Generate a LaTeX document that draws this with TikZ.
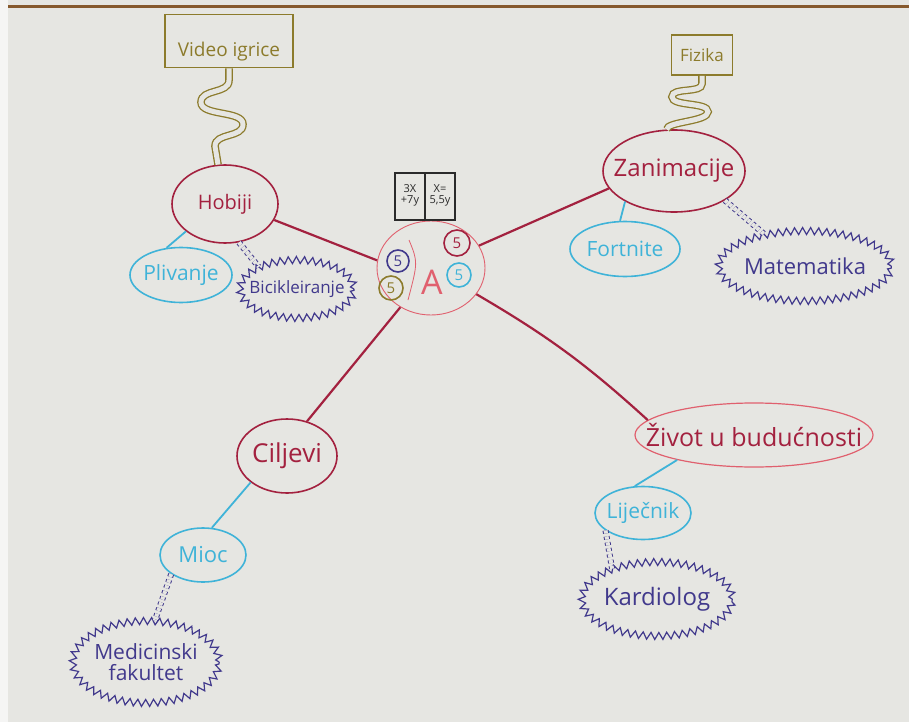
\documentclass[tikz,border=0pt]{standalone}
\usepackage{fontspec}
\setmainfont{Open Sans}
\usetikzlibrary{shapes.geometric,decorations.pathmorphing,positioning}
\definecolor{paper}{HTML}{E6E6E2}
\definecolor{mapred}{HTML}{A3213F}
\definecolor{mappink}{HTML}{E0606E}
\definecolor{mapcyan}{HTML}{3FB3D8}
\definecolor{mappurple}{HTML}{41398C}
\definecolor{mapolive}{HTML}{8C7B2C}
\definecolor{mapink}{HTML}{2A2A2A}
\newcommand{\hand}[1]{\fontsize{#1}{#1}\selectfont}
\newcommand{\nowidth}[1]{\makebox[0pt]{#1}}
\tikzset{
  mainblob/.style={
    ellipse, draw=mapred, line width=1.6pt, text=mapred, inner sep=0pt
  },
  subblob/.style={
    ellipse, draw=mapcyan, line width=1.6pt, text=mapcyan, inner sep=0pt
  },
  cloudbox/.style={
    ellipse, draw=mappurple, line width=1.2pt, text=mappurple, inner sep=0pt,
    align=center, decorate, decoration={zigzag, segment length=8pt, amplitude=3.5pt}
  },
  giftbox/.style={
    rectangle, draw=mapolive, line width=1.6pt, text=mapolive, inner sep=0pt
  },
  eqtext/.style={text=mapink, align=center, inner sep=0pt, font=\hand{11}},
  fivering/.style={circle, line width=1.6pt, inner sep=0pt, font=\hand{15}},
  mainline/.style={draw=mapred, line width=2.2pt},
  subline/.style={draw=mapcyan, line width=1.8pt},
  dashline/.style={draw=mappurple, line width=1pt, dashed, double=paper, double distance=4pt},
  wavyline/.style={draw=mapolive, line width=1.3pt, double=paper, double distance=5pt}
}

\begin{document}
\begin{tikzpicture}[x=1pt,y=-1pt]
\useasboundingbox (0,0) rectangle (909,722);
\fill[paper] (0,0) rectangle (909,722);
\fill[white!60!paper] (0,0) rectangle (8,722);
\fill[brown!70!black] (8,5) rectangle (909,8);
% centre
\node[ellipse, draw=mappink, line width=0.9pt, minimum width=108pt, minimum height=94pt] (ctr) at (431,268) {};
\node[text=mappink, font=\hand{34}] (bigA) at (432,282) {A};
\draw[mappink, line width=0.8pt] (409,240) .. controls (418,262) .. (408,300);
\node[fivering, draw=mapred, text=mapred, minimum size=26pt] (fiveR) at (457,243) {5};
\node[fivering, draw=mapcyan, text=mapcyan, minimum size=24pt] (fiveC) at (459,275) {5};
\node[fivering, draw=mappurple, text=mappurple, minimum size=22pt] (fiveP) at (398,261) {5};
\node[fivering, draw=mapolive, text=mapolive, minimum size=24pt] (fiveO) at (391,288) {5};
% equation card
\draw[mapink, line width=1.3pt] (395,173) rectangle (455,220);
\draw[mapink, line width=1.3pt] (425,173) -- (425,220);
\node[eqtext] (eqa) at (410,195) {3X\\+7y};
\node[eqtext] (eqb) at (440,195) {X=\\5,5y};
% branches
\node[mainblob, minimum width=106pt, minimum height=78pt, font=\hand{20}] (hob) at (225,204) {Hobiji};
\node[mainblob, minimum width=142pt, minimum height=82pt, font=\hand{24}] (zan) at (674,171) {\nowidth{Zanimacije}};
\node[mainblob, minimum width=100pt, minimum height=74pt, font=\hand{26}] (cil) at (287,456) {Ciljevi};
\node[mainblob, draw=mappink, line width=1.2pt, minimum width=238pt, minimum height=64pt, font=\hand{25}] (zhi) at (754,435) {\nowidth{Život u budućnosti}};
% leaves
\node[giftbox, minimum width=128pt, text height=36pt, text depth=5pt, inner ysep=6pt, font=\hand{19}] (vid) at (229,41) {Video igrice};
\node[giftbox, minimum width=61pt, minimum height=40pt, font=\hand{17}] (fiz) at (702,55) {Fizika};
\node[subblob, minimum width=102pt, minimum height=55pt, font=\hand{21}] (pli) at (181,275) {\nowidth{Plivanje}};
\node[subblob, minimum width=110pt, minimum height=55pt, font=\hand{21}] (fort) at (625,249) {\nowidth{Fortnite}};
\node[subblob, minimum width=86pt, minimum height=54pt, font=\hand{22}] (mio) at (203,555) {Mioc};
\node[subblob, minimum width=96pt, minimum height=53pt, font=\hand{21}] (lij) at (643,513) {\nowidth{Liječnik}};
\node[cloudbox, minimum width=114pt, minimum height=58pt, font=\hand{17}] (bic) at (297,289) {\nowidth{Bicikleiranje}};
\node[cloudbox, minimum width=170pt, minimum height=70pt, font=\hand{22}] (mat) at (805,266) {Matematika};
\node[cloudbox, minimum width=146pt, minimum height=82pt, font=\hand{21}] (med) at (146,662) {Medicinski\\fakultet};
\node[cloudbox, minimum width=142pt, minimum height=74pt, font=\hand{24}] (kar) at (657,599) {Kardiolog};
% connectors
\draw[mainline] (ctr.172) -- (hob.-18);
\draw[mainline] (ctr.25) -- (zan.195);
\draw[mainline] (ctr.232) -- (cil.60);
\draw[mainline] (ctr.-30) to[bend left=6] (zhi.172);
\draw[subline] (hob.215) -- (pli.118);
\draw[subline] (zan.212) -- (fort.100);
\draw[subline] (cil.216) -- (mio.72);
\draw[subline] (zhi.198) -- (lij.107);
\draw[dashline] (hob.-70) -- (bic.150);
\draw[dashline] (zan.-30) -- (mat.142);
\draw[dashline] (mio.211) -- (med.78);
\draw[dashline] (lij.205) -- (kar.146);
\draw[wavyline] (vid.south) -- ++(0,12)
  .. controls +(0,14) and +(0,-14) .. ++(-28,22)
  .. controls +(0,14) and +(0,-14) .. ++(42,22)
  .. controls +(0,14) and +(0,-14) .. ++(-28,22) -- (hob.100);
\draw[wavyline] (fiz.south) -- ++(0,8)
  .. controls +(0,10) and +(0,-10) .. ++(-30,13)
  .. controls +(0,10) and +(0,-10) .. ++(36,15)
  .. controls +(0,10) and +(0,-8) .. (zan.100);
\end{tikzpicture}
\end{document}
